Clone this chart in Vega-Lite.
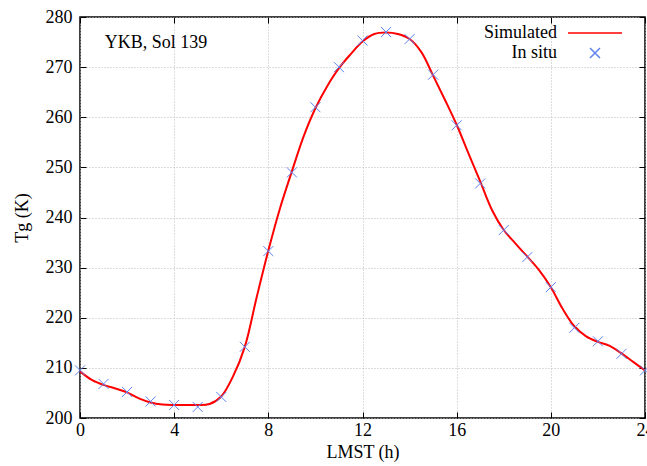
{
  "$schema": "https://vega.github.io/schema/vega-lite/v6.json",
  "width": 565,
  "height": 401,
  "autosize": {"type": "none"},
  "padding": {"left": 80, "top": 17, "right": 2, "bottom": 48},
  "background": "white",
  "config": {
    "font": "Liberation Serif",
    "view": {"stroke": "#000", "strokeWidth": 1.5},
    "axis": {
      "labelFont": "Liberation Serif",
      "labelFontSize": 18,
      "labelColor": "#000",
      "titleFont": "Liberation Serif",
      "titleFontSize": 18,
      "titleFontWeight": "normal",
      "titleColor": "#000",
      "gridColor": "#bbbbbb",
      "gridDash": [1, 2],
      "gridWidth": 1,
      "tickColor": "#000",
      "tickWidth": 1,
      "domain": false
    },
    "legend": {
      "labelFont": "Liberation Serif",
      "labelFontSize": 18,
      "labelColor": "#000"
    }
  },
  "datasets": {
    "sim": [
      {"h": 0, "T": 209.3}, {"h": 0.5, "T": 207.6}, {"h": 1, "T": 206.6}, {"h": 1.5, "T": 205.9},
      {"h": 2, "T": 205.1}, {"h": 2.5, "T": 203.9}, {"h": 3, "T": 203.1}, {"h": 3.5, "T": 202.7},
      {"h": 4, "T": 202.6}, {"h": 4.5, "T": 202.6}, {"h": 5, "T": 202.6}, {"h": 5.5, "T": 202.8},
      {"h": 6, "T": 204.3}, {"h": 6.5, "T": 208.3}, {"h": 7, "T": 214.2}, {"h": 7.5, "T": 224.0},
      {"h": 8, "T": 233.4}, {"h": 8.5, "T": 241.9}, {"h": 9, "T": 249.2}, {"h": 9.5, "T": 256.2},
      {"h": 10, "T": 261.8}, {"h": 10.5, "T": 266.2}, {"h": 11, "T": 269.8}, {"h": 11.5, "T": 272.6},
      {"h": 12, "T": 275.1}, {"h": 12.5, "T": 276.6}, {"h": 13, "T": 276.9}, {"h": 13.5, "T": 276.6},
      {"h": 14, "T": 275.6}, {"h": 14.5, "T": 273.0}, {"h": 15, "T": 268.3}, {"h": 15.5, "T": 263.5},
      {"h": 16, "T": 258.5}, {"h": 16.5, "T": 252.8}, {"h": 17, "T": 247.2}, {"h": 17.5, "T": 241.5},
      {"h": 18, "T": 237.5}, {"h": 18.5, "T": 234.8}, {"h": 19, "T": 232.2}, {"h": 19.5, "T": 229.5},
      {"h": 20, "T": 226.1}, {"h": 20.5, "T": 221.8}, {"h": 21, "T": 218.3}, {"h": 21.5, "T": 216.3},
      {"h": 22, "T": 215.2}, {"h": 22.5, "T": 214.4}, {"h": 23, "T": 212.9}, {"h": 23.5, "T": 211.2},
      {"h": 24, "T": 209.5}
    ],
    "obs": [
      {"h": 0, "T": 209.5}, {"h": 1, "T": 206.8}, {"h": 2, "T": 205.2}, {"h": 3, "T": 203.3},
      {"h": 4, "T": 202.6}, {"h": 5, "T": 202.2}, {"h": 6, "T": 204.2}, {"h": 7, "T": 214.2},
      {"h": 8, "T": 233.3}, {"h": 9, "T": 249.0}, {"h": 10, "T": 262.0}, {"h": 11, "T": 270.0},
      {"h": 12, "T": 275.3}, {"h": 13, "T": 277.0}, {"h": 14, "T": 275.6}, {"h": 15, "T": 268.5},
      {"h": 16, "T": 258.4}, {"h": 17, "T": 246.8}, {"h": 18, "T": 237.5}, {"h": 19, "T": 232.1},
      {"h": 20, "T": 226.1}, {"h": 21, "T": 218.0}, {"h": 22, "T": 215.3}, {"h": 23, "T": 212.8},
      {"h": 24, "T": 209.5}
    ],
    "note": [{"h": 1.05, "T": 274.9, "label": "YKB, Sol 139"}]
  },
  "resolve": {"axis": {"x": "independent", "y": "independent"}},
  "layer": [
    {
      "data": {"name": "sim"},
      "transform": [{"calculate": "'Simulated'", "as": "series"}],
      "mark": {"type": "line", "interpolate": "catmull-rom", "strokeWidth": 2},
      "encoding": {
        "x": {
          "field": "h", "type": "quantitative",
          "scale": {"domain": [0, 24], "nice": false},
          "axis": {"orient": "bottom", "values": [0, 4, 8, 12, 16, 20, 24], "title": "LMST (h)",
                   "grid": true, "tickSize": -6, "labelPadding": 9, "titlePadding": 4,
                   "labelFlush": false}
        },
        "y": {
          "field": "T", "type": "quantitative",
          "scale": {"domain": [200, 280], "nice": false, "zero": false},
          "axis": {"orient": "left", "values": [200, 210, 220, 230, 240, 250, 260, 270, 280], "title": "Tg (K)",
                   "grid": true, "tickSize": -6, "labelPadding": 14, "titlePadding": 14}
        },
        "color": {
          "field": "series", "type": "nominal",
          "scale": {"domain": ["Simulated", "In situ"], "range": ["#ff0000", "#5f82f2"]},
          "legend": {
            "orient": "none", "legendX": 506, "legendY": 7, "title": null,
            "labelAlign": "right", "labelOffset": -47, "padding": 0, "rowPadding": 2,
            "symbolStrokeWidth": 1.5, "symbolFillColor": "transparent", "symbolSize": 100
          }
        }
      }
    },
    {
      "data": {"name": "obs"},
      "transform": [{"calculate": "'In situ'", "as": "series"}],
      "mark": {"type": "point", "filled": false, "strokeWidth": 1, "size": 100, "opacity": 1},
      "encoding": {
        "x": {"field": "h", "type": "quantitative",
              "axis": {"orient": "top", "values": [0, 4, 8, 12, 16, 20, 24], "labels": false, "title": null,
                       "grid": false, "tickSize": -6}},
        "y": {"field": "T", "type": "quantitative",
              "axis": {"orient": "right", "values": [200, 210, 220, 230, 240, 250, 260, 270, 280], "labels": false, "title": null,
                       "grid": false, "tickSize": -6}},
        "color": {"field": "series", "type": "nominal"},
        "shape": {
          "field": "series", "type": "nominal",
          "scale": {"domain": ["Simulated", "In situ"], "range": ["M-5.4,0L5.4,0", "M-1,-1L1,1M-1,1L1,-1"]}
        }
      }
    },
    {
      "data": {"name": "note"},
      "mark": {"type": "text", "align": "left", "baseline": "middle", "fontSize": 18, "font": "Liberation Serif", "color": "#000"},
      "encoding": {
        "x": {"field": "h", "type": "quantitative", "axis": null},
        "y": {"field": "T", "type": "quantitative", "axis": null},
        "text": {"field": "label"}
      }
    }
  ]
}
